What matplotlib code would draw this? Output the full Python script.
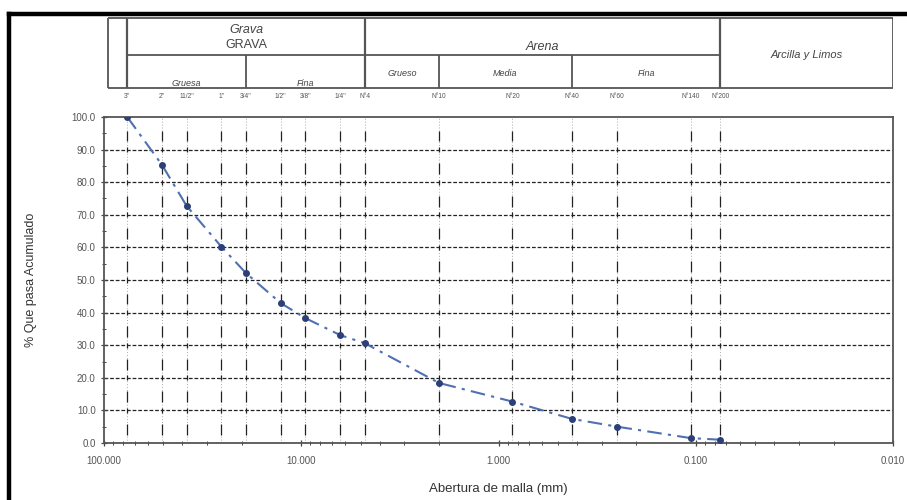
import matplotlib
matplotlib.use("Agg")
import matplotlib.pyplot as plt
from matplotlib.lines import Line2D
from matplotlib.ticker import FixedLocator, FuncFormatter, LogLocator, MultipleLocator

plt.rcParams['font.family'] = ['Liberation Sans', 'DejaVu Sans']

# ---- data ----
sieve_labels = ['3"', '2"', '11/2"', '1"', '3/4"', '1/2"', '3/8"', '1/4"', 'N°4',
                'N°10', 'N°20', 'N°40', 'N°60', 'N°140', 'N°200']
sieve_mm = [76.2, 50.8, 38.1, 25.4, 19.05, 12.7, 9.525, 6.35, 4.76,
            2.00, 0.85, 0.425, 0.25, 0.106, 0.075]
pass_pct = [100.0, 85.3, 72.7, 60.2, 52.1, 42.9, 38.3, 33.1, 30.6,
            18.4, 12.7, 7.4, 5.0, 1.5, 1.0]

x_ticks = [100, 10, 1, 0.1, 0.01]
y_ticks = [0, 10, 20, 30, 40, 50, 60, 70, 80, 90, 100]

# header classification limits (mm)
grava_lim = (76.2, 4.76)
grava_split = 19.05
arena_lim = (4.76, 0.075)
arena_splits = [2.0, 0.425]
x_min, x_max = 100, 0.01

W, H = 907, 500
fig = plt.figure(figsize=(W / 100, H / 100), dpi=100)

def px_rect(l, t, r, b):
    return [l / W, 1 - b / H, (r - l) / W, (b - t) / H]

# ---- main axes ----
ax = fig.add_axes(px_rect(104, 117, 893, 443))
ax.set_xscale('log')
ax.set_xlim(x_min, x_max)
ax.set_ylim(0, 100)

# horizontal dashed grid
for yv in y_ticks[1:-1]:
    ax.axhline(yv, color='#222222', lw=0.9, ls=(0, (3, 1.5)), zorder=1)

# vertical sieve lines: grey dotted + black dash segments
for s in sieve_mm:
    ax.axvline(s, color='#aaaaaa', lw=0.7, ls=(0, (1, 2)), zorder=1)
    for yv in y_ticks[:-1]:
        ax.vlines(s, yv + 2.5, yv + 5.8, color='#222222', lw=0.9, zorder=2)
    for yv in y_ticks[1:-1]:
        ax.vlines(s, yv - 0.8, yv + 0.8, color='#222222', lw=0.9, zorder=2)

# data curve
ax.plot(sieve_mm, pass_pct, color='#5070b0', lw=1.5, ls=(0, (7, 3, 1.5, 3)),
        marker='o', ms=4, mfc='#2c3f78', mec='#2c3f78', zorder=5)

for sp in ax.spines.values():
    sp.set_color('#555555')
    sp.set_linewidth(1.3)

ax.xaxis.set_major_locator(FixedLocator(x_ticks))
ax.xaxis.set_major_formatter(FuncFormatter(lambda v, p: f'{v:.3f}'))
ax.xaxis.set_minor_locator(LogLocator(base=10, subs=range(2, 10)))
ax.xaxis.set_minor_formatter(FuncFormatter(lambda v, p: ''))
ax.yaxis.set_major_locator(FixedLocator(y_ticks))
ax.yaxis.set_major_formatter(FuncFormatter(lambda v, p: f'{v:.1f}'))
ax.yaxis.set_minor_locator(MultipleLocator(5))
ax.tick_params(axis='both', which='major', direction='inout', length=5, width=0.9,
               colors='#444444', labelsize=7, labelcolor='#555555')
ax.tick_params(axis='both', which='minor', direction='inout', length=3, width=0.7,
               colors='#444444')
ax.tick_params(axis='x', which='major', pad=7)

ax.set_xlabel('Abertura de malla (mm)', fontsize=9.5, color='#333333', labelpad=12)
fig.text(31 / W, 1 - 280 / H, '% Que pasa Acumulado', rotation=90, fontsize=9,
         color='#333333', ha='center', va='center')

# ---- header axes (same x scale) ----
hx = fig.add_axes(px_rect(104, 17, 893, 117), sharex=ax)
hx.set_ylim(0, 100)
hx.axis('off')
top, mid, bot = 99, 62, 29
lc = '#555555'
hx.hlines([top, bot], x_min * 0.95, x_max, color=lc, lw=1.3)
hx.hlines(mid, grava_lim[0], arena_lim[1], color=lc, lw=1.3)
hx.vlines([x_min * 0.95, x_max], bot, top, color=lc, lw=1.3)
hx.vlines([grava_lim[0], grava_lim[1], arena_lim[1]], bot, top, color=lc, lw=1.6)
hx.vlines([grava_split] + arena_splits, bot, mid, color=lc, lw=1.3)

tc = '#444444'
def gm(a, b):
    return (a * b) ** 0.5

hx.text(gm(*grava_lim), 87, 'Grava', ha='center', va='center', fontsize=9,
        style='italic', color=tc)
hx.text(gm(*grava_lim), 72, 'GRAVA', ha='center', va='center', fontsize=9, color=tc)
hx.text(gm(grava_lim[0], grava_split), 34, 'Gruesa', ha='center', va='center',
        fontsize=6.5, style='italic', color=tc)
hx.text(gm(grava_split, grava_lim[1]), 34, 'Fina', ha='center', va='center',
        fontsize=6.5, style='italic', color=tc)
hx.text(gm(*arena_lim), 70, 'Arena', ha='center', va='center', fontsize=9,
        style='italic', color=tc)
hx.text(gm(arena_lim[0], arena_splits[0]), 43, 'Grueso', ha='center', va='center',
        fontsize=6.5, style='italic', color=tc)
hx.text(gm(arena_splits[0], arena_splits[1]), 43, 'Media', ha='center', va='center',
        fontsize=6.5, style='italic', color=tc)
hx.text(gm(arena_splits[1], arena_lim[1]), 43, 'Fina', ha='center', va='center',
        fontsize=6.5, style='italic', color=tc)
hx.text(gm(arena_lim[1], x_max), 62, 'Arcilla y Limos', ha='center', va='center',
        fontsize=8, style='italic', color=tc)

for s, lab in zip(sieve_mm, sieve_labels):
    hx.text(s, 20, lab, ha='center', va='center', fontsize=4.8, color='#555555')

# ---- outer black frame ----
fig.add_artist(Line2D([9 / W, 9 / W], [0, 1 - 13.5 / H], color='black', lw=3.2,
                      transform=fig.transFigure))
fig.add_artist(Line2D([9 / W, 1], [1 - 13.5 / H, 1 - 13.5 / H], color='black', lw=3.2,
                      transform=fig.transFigure))

fig.savefig('out.png', dpi=100)
